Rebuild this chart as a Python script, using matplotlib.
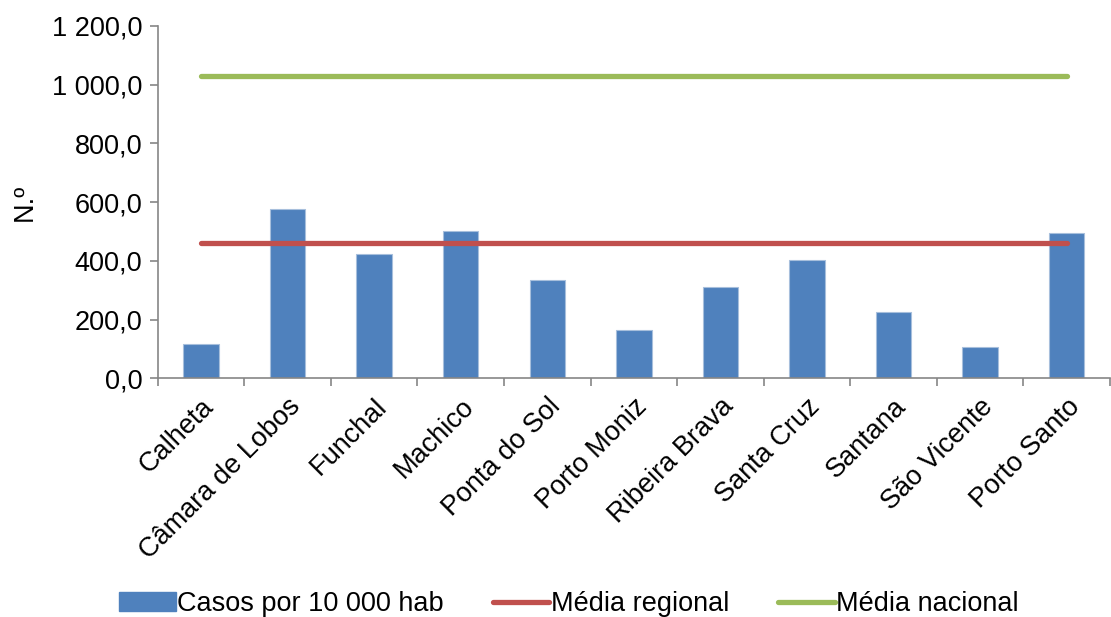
import matplotlib.pyplot as plt
import numpy as np
from matplotlib.ticker import FuncFormatter, FixedLocator
from matplotlib.patches import Patch
from matplotlib.lines import Line2D

plt.rcParams['font.family'] = ['Liberation Sans', 'DejaVu Sans']

concelhos = ["Calheta", "Câmara de Lobos", "Funchal", "Machico", "Ponta do Sol",
             "Porto Moniz", "Ribeira Brava", "Santa Cruz", "Santana", "São Vicente",
             "Porto Santo"]
casos = [115, 577, 423, 501, 335, 164, 312, 404, 224, 105, 493]
media_regional = 462
media_nacional = 1028

BLUE = "#4f81bd"
RED = "#c0504d"
GREEN = "#9bbb59"
GREY = "#868686"
FS = 19.5

fig = plt.figure(figsize=(11.11, 6.17), dpi=100)
ax = fig.add_axes([0.142, 0.387, 0.857, 0.571])

x = np.arange(len(concelhos))
ax.bar(x, casos, width=0.41, color=BLUE, edgecolor="#a7bfdc", linewidth=0.8, zorder=2)
ax.plot(x, [media_regional] * len(x), color=RED, linewidth=3.8,
        solid_capstyle="round", zorder=3)
ax.plot(x, [media_nacional] * len(x), color=GREEN, linewidth=3.8,
        solid_capstyle="round", zorder=3)

ax.set_xlim(-0.5, len(x) - 0.5)
ax.set_ylim(0, 1200)
ax.set_yticks(np.arange(0, 1201, 200))


def fmt(v, pos):
    s = f"{v:,.1f}"
    return s.replace(",", " ").replace(".", ",")


ax.yaxis.set_major_formatter(FuncFormatter(fmt))
ax.set_xticks(x)
ax.set_xticklabels(concelhos, rotation=45, ha="right", rotation_mode="anchor",
                   fontsize=FS)
ax.tick_params(axis="x", length=0, pad=11)
ax.xaxis.set_minor_locator(FixedLocator(np.arange(-0.5, len(x), 1.0)))
ax.tick_params(axis="x", which="minor", length=6, width=1.2, color=GREY)
ax.tick_params(axis="y", labelsize=FS, length=6, width=1.2, color=GREY, pad=5)

for s in ["top", "right"]:
    ax.spines[s].set_visible(False)
for s in ["left", "bottom"]:
    ax.spines[s].set_color(GREY)
    ax.spines[s].set_linewidth(1.2)

ax.set_ylabel("N.º", fontsize=FS, labelpad=10)

handles = [Patch(facecolor=BLUE, edgecolor=BLUE),
           Line2D([], [], color=RED, linewidth=3.8, solid_capstyle="round"),
           Line2D([], [], color=GREEN, linewidth=3.8, solid_capstyle="round")]
labels = ["Casos por 10 000 hab", "Média regional", "Média nacional"]
fig.legend(handles, labels, loc="lower center", bbox_to_anchor=(0.512, -0.04),
           ncol=3, frameon=False, fontsize=FS, handlelength=2.1,
           handletextpad=0.05, columnspacing=1.8)

fig.savefig("out.png", dpi=100)
